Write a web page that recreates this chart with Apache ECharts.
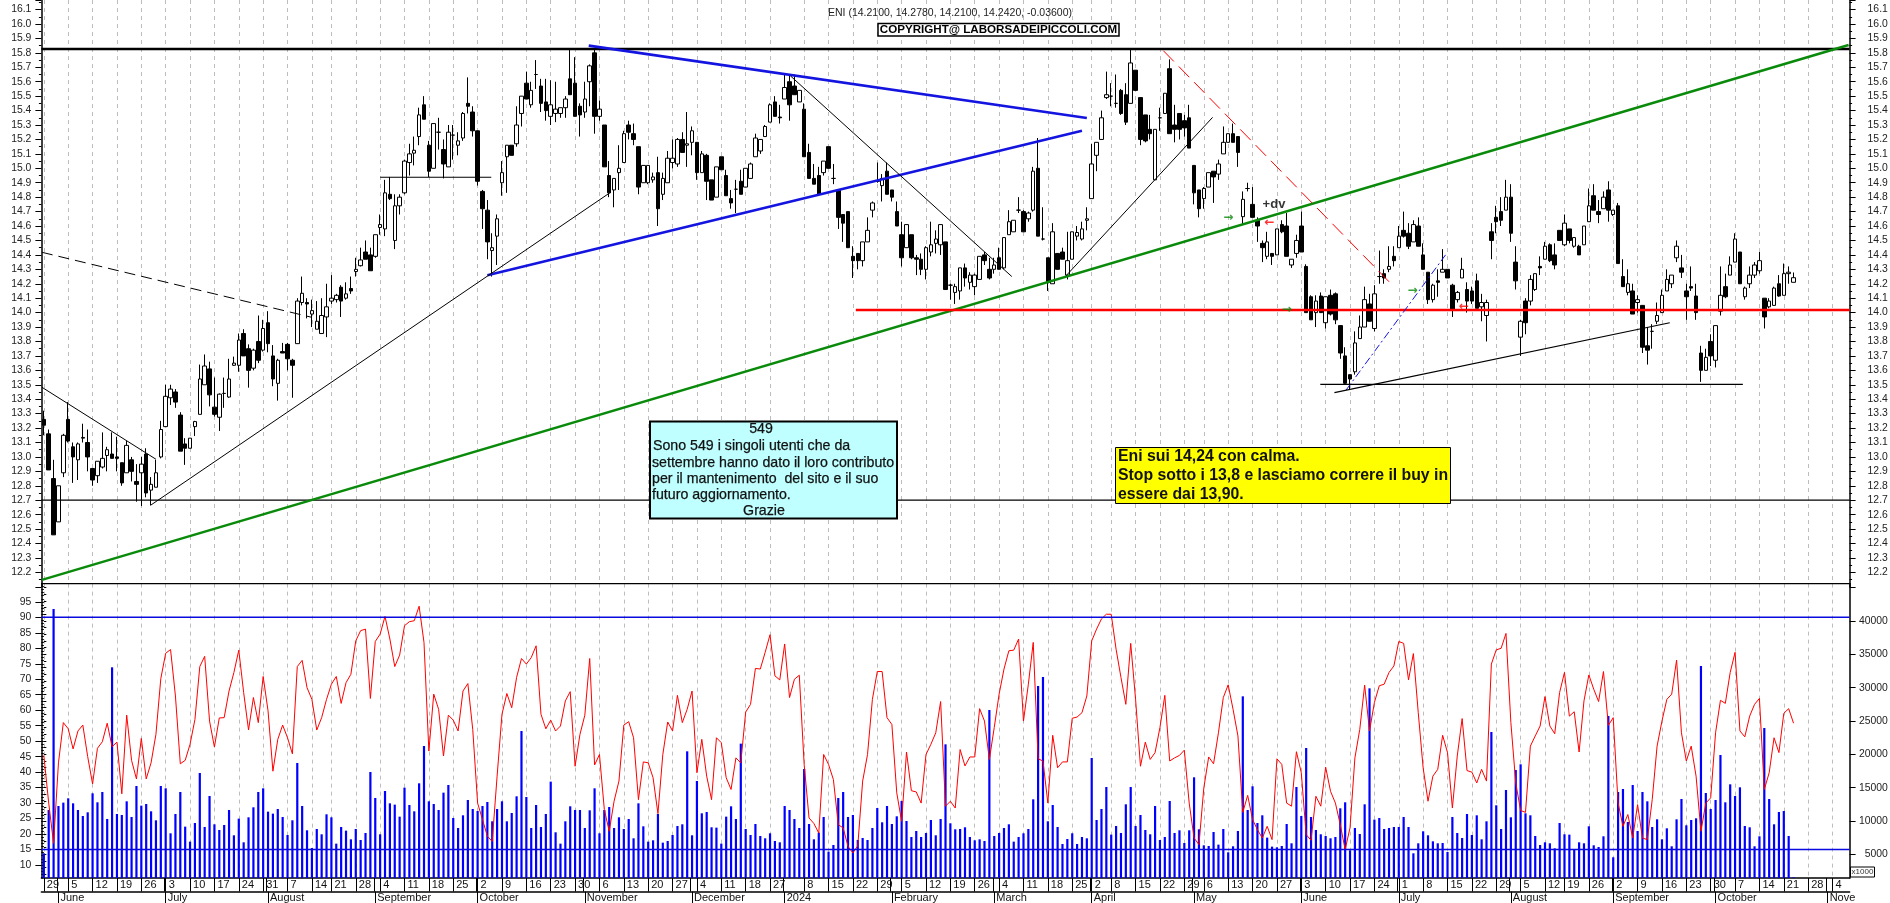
<!DOCTYPE html>
<html><head><meta charset="utf-8">
<style>html,body{margin:0;padding:0;background:#fff;overflow:hidden}#c{width:1890px;height:903px}</style>
<script src="https://cdn.jsdelivr.net/npm/echarts@6/dist/echarts.min.js"></script>
</head><body><div id="c"></div>
<script>
// open, close, low, high per trading day
const priceBars = [
[13.26,13.22,13.15,13.32],[13.16,12.91,12.91,13.19],[12.85,12.46,12.46,12.98],[12.55,12.80,12.55,12.80],[12.89,13.15,12.86,13.16],
[13.26,13.11,13.10,13.38],[13.07,13.00,12.82,13.10],[12.98,13.09,12.84,13.10],[13.13,13.135,13.10,13.23],[13.10,13.00,12.90,13.19],
[12.92,12.84,12.80,12.92],[12.87,12.97,12.82,12.97],[12.93,12.99,12.92,13.17],[13.01,13.05,12.90,13.07],[13.02,12.99,12.99,13.17],
[13.00,12.99,12.90,13.14],[12.96,12.82,12.80,12.96],[12.89,13.08,12.89,13.11],[12.98,12.90,12.83,13.00],[12.83,12.81,12.69,12.95],
[12.89,12.95,12.66,13.00],[13.02,12.75,12.72,13.06],[12.77,12.81,12.665,12.86],[12.79,12.89,12.79,12.98],[13.00,13.19,12.99,13.25],
[13.21,13.42,13.21,13.50],[13.41,13.47,13.36,13.50],[13.45,13.38,13.34,13.47],[13.29,13.04,13.04,13.31],[13.09,13.06,12.945,13.13],
[13.06,13.13,13.06,13.13],[13.21,13.245,13.145,13.25],[13.295,13.54,13.295,13.64],[13.50,13.63,13.50,13.71],[13.61,13.43,13.35,13.66],
[13.345,13.295,13.28,13.55],[13.275,13.435,13.18,13.44],[13.44,13.44,13.34,13.55],[13.415,13.54,13.41,13.68],[13.635,13.65,13.63,13.695],
[13.635,13.81,13.59,13.855],[13.855,13.70,13.70,13.885],[13.75,13.60,13.48,13.78],[13.615,13.74,13.60,13.75],[13.80,13.67,13.65,13.98],
[13.74,13.89,13.73,13.95],[13.93,13.785,13.725,14.01],[13.70,13.54,13.49,13.775],[13.51,13.67,13.39,13.68],[13.73,13.72,13.72,13.79],
[13.78,13.68,13.60,13.79],[13.67,13.635,13.41,13.68],[13.785,14.08,13.785,14.10],[14.07,14.134,14.05,14.25],[14.07,14.06,13.96,14.10],
[13.99,14.014,13.90,14.09],[13.885,13.94,13.885,14.08],[13.855,13.98,13.855,14.10],[13.97,14.04,13.83,14.20],[14.08,14.10,14.06,14.26],
[14.09,14.12,14.07,14.13],[14.176,14.08,13.97,14.19],[14.10,14.13,14.09,14.21],[14.167,14.15,14.13,14.25],[14.285,14.30,14.25,14.38],
[14.325,14.365,14.32,14.45],[14.42,14.37,14.37,14.50],[14.40,14.29,14.29,14.45],[14.39,14.54,14.38,14.54],[14.59,14.61,14.54,14.68],
[14.58,14.83,14.53,14.92],[14.82,14.79,14.78,14.94],[14.50,14.74,14.44,14.82],[14.74,14.80,14.68,14.82],[14.83,15.05,14.82,15.06],
[15.04,15.10,14.95,15.17],[15.105,15.125,15.02,15.22],[15.22,15.37,15.16,15.42],[15.44,15.34,15.34,15.50],[15.16,14.98,14.94,15.19],
[15.00,15.31,15.00,15.31],[15.25,15.25,15.13,15.35],[15.13,15.03,14.93,15.20],[15.01,15.25,15.01,15.30],[15.23,15.23,15.06,15.30],
[15.16,15.19,15.09,15.25],[15.21,15.38,15.19,15.39],[15.45,15.43,15.38,15.63],[15.39,15.26,15.22,15.43],[15.26,14.91,14.88,15.26],
[14.84,14.72,14.58,14.85],[14.71,14.49,14.37,14.78],[14.43,14.45,14.25,14.55],[14.53,14.65,14.33,14.68],[14.90,14.97,14.81,15.05],
[15.08,15.16,14.83,15.16],[15.16,15.09,15.09,15.16],[15.17,15.30,15.15,15.43],[15.38,15.50,15.29,15.50],[15.59,15.48,15.48,15.67],
[15.44,15.54,15.42,15.60],[15.65,15.65,15.55,15.75],[15.57,15.45,15.39,15.62],[15.46,15.40,15.33,15.62],[15.36,15.44,15.30,15.61],
[15.38,15.41,15.32,15.60],[15.38,15.42,15.35,15.42],[15.42,15.48,15.35,15.50],[15.62,15.51,15.51,15.82],[15.59,15.36,15.36,15.77],
[15.43,15.37,15.22,15.45],[15.39,15.48,15.35,15.60],[15.60,15.71,15.43,15.72],[15.80,15.36,15.24,15.82],[15.36,15.41,15.33,15.47],
[15.30,15.01,15.01,15.30],[14.95,14.83,14.80,15.05],[14.85,14.93,14.73,14.93],[14.97,15.00,14.85,15.16],[15.04,15.24,15.04,15.26],
[15.30,15.25,15.20,15.33],[15.24,15.20,15.16,15.31],[15.15,14.87,14.82,15.15],[14.90,15.02,14.90,15.02],[14.90,15.02,14.89,15.02],
[14.92,14.94,14.90,14.97],[14.97,14.72,14.60,15.08],[14.82,14.93,14.78,14.97],[14.90,15.07,14.90,15.12],[15.04,15.07,15.00,15.20],
[15.03,15.20,15.01,15.21],[15.20,15.11,15.11,15.25],[15.16,15.17,15.01,15.39],[15.18,15.26,15.09,15.29],[15.18,14.97,14.92,15.18],
[14.97,15.10,14.97,15.12],[15.09,14.91,14.78,15.10],[14.92,14.78,14.78,14.92],[14.80,15.01,14.80,15.01],[15.08,14.99,14.99,15.08],
[14.95,14.81,14.81,14.99],[14.79,14.76,14.72,14.85],[14.855,14.855,14.69,14.92],[14.91,14.82,14.82,14.99],[14.87,15.00,14.87,15.00],
[14.93,15.03,14.93,15.04],[15.08,15.21,15.08,15.24],[15.12,15.20,15.10,15.20],[15.22,15.29,15.22,15.30],[15.32,15.44,15.32,15.45],
[15.46,15.36,15.36,15.50],[15.355,15.35,15.31,15.44],[15.48,15.56,15.48,15.65],[15.60,15.44,15.33,15.65],[15.57,15.51,15.51,15.65],
[15.46,15.54,15.46,15.54],[15.41,15.08,15.08,15.45],[15.11,14.93,14.93,15.17],[14.93,14.89,14.89,15.03],[14.95,14.82,14.82,15.01],
[14.97,15.05,14.95,15.05],[15.15,15.00,15.00,15.15],[14.93,14.93,14.89,15.03],[14.85,14.66,14.58,14.85],[14.68,14.62,14.49,14.68],
[14.70,14.45,14.45,14.70],[14.39,14.36,14.24,14.46],[14.41,14.36,14.30,14.41],[14.36,14.49,14.32,14.49],[14.49,14.57,14.49,14.66],
[14.71,14.76,14.66,14.77],[14.91,14.91,14.90,15.04],[14.88,14.93,14.77,14.96],[14.98,14.82,14.82,15.04],[14.85,14.80,14.77,14.85],
[14.70,14.60,14.60,14.77],[14.54,14.38,14.32,14.63],[14.45,14.61,14.45,14.61],[14.54,14.38,14.37,14.54],[14.38,14.37,14.26,14.40],
[14.37,14.30,14.26,14.41],[14.30,14.45,14.23,14.46],[14.42,14.47,14.39,14.63],[14.48,14.51,14.41,14.57],[14.47,14.61,14.40,14.61],
[14.49,14.16,14.16,14.49],[14.19,14.19,14.09,14.20],[14.14,14.18,14.06,14.20],[14.15,14.31,14.09,14.31],[14.31,14.24,14.18,14.34],
[14.21,14.26,14.16,14.28],[14.18,14.26,14.12,14.27],[14.23,14.39,14.23,14.39],[14.40,14.36,14.33,14.42],[14.30,14.24,14.23,14.38],
[14.30,14.33,14.27,14.38],[14.38,14.30,14.30,14.45],[14.31,14.52,14.30,14.52],[14.54,14.63,14.54,14.71],[14.56,14.64,14.56,14.64],
[14.71,14.71,14.69,14.80],[14.70,14.56,14.56,14.71],[14.65,14.69,14.63,14.70],[14.71,14.98,14.70,15.01],[15.00,14.53,14.53,15.21],
[14.51,14.51,14.50,14.73],[14.38,14.21,14.15,14.38],[14.20,14.56,14.20,14.62],[14.41,14.30,14.30,14.41],[14.42,14.37,14.37,14.45],
[14.26,14.36,14.23,14.56],[14.37,14.56,14.37,14.56],[14.53,14.555,14.50,14.60],[14.51,14.58,14.50,14.63],[14.64,14.65,14.57,14.73],
[14.79,15.03,14.79,15.17],[15.09,15.18,14.98,15.18],[15.20,15.35,15.20,15.40],[15.49,15.51,15.48,15.67],[15.50,15.50,15.43,15.59],
[15.45,15.45,15.42,15.65],[15.54,15.38,15.37,15.55],[15.51,15.32,15.30,15.59],[15.45,15.73,15.45,15.82],[15.68,15.54,15.54,15.68],
[15.49,15.20,15.16,15.49],[15.37,15.19,15.18,15.37],[15.27,15.24,15.20,15.37],[14.92,15.27,14.92,15.27],[15.35,15.35,15.26,15.42],
[15.38,15.52,15.38,15.52],[15.69,15.24,15.24,15.755],[15.30,15.27,15.18,15.44],[15.38,15.27,15.20,15.38],[15.33,15.28,15.22,15.37],
[15.35,15.14,15.14,15.44],[15.02,14.83,14.75,15.02],[14.85,14.72,14.66,14.85],[14.79,14.86,14.72,14.87],[14.87,14.97,14.87,14.97],
[14.98,14.94,14.76,14.98],[14.96,15.03,14.92,15.06],[15.10,15.18,15.10,15.29],[15.18,15.24,15.18,15.24],[15.24,15.18,15.18,15.31],
[15.22,15.11,15.01,15.22],[14.665,14.785,14.61,14.84],[14.86,14.86,14.84,14.90],[14.75,14.66,14.66,14.87],[14.64,14.60,14.49,14.66],
[14.48,14.45,14.35,14.50],[14.39,14.49,14.37,14.56],[14.41,14.39,14.33,14.41],[14.40,14.58,14.40,14.58],[14.61,14.56,14.55,14.64],
[14.60,14.39,14.39,14.69],[14.33,14.37,14.31,14.37],[14.41,14.50,14.38,14.54],[14.60,14.42,14.42,14.70],[14.32,14.00,14.00,14.335],
[14.11,13.95,13.95,14.12],[14.00,14.08,13.90,14.12],[14.115,14.00,14.00,14.14],[13.93,14.11,13.89,14.11],[14.12,13.99,13.98,14.16],
[14.13,13.95,13.92,14.14],[13.91,13.72,13.68,13.91],[13.70,13.51,13.50,13.76],[13.57,13.54,13.47,13.57],[13.59,13.79,13.57,13.87],
[13.82,13.90,13.82,13.98],[13.90,14.09,13.90,14.18],[14.06,13.94,13.94,14.13],[13.89,14.13,13.87,14.19],[14.25,14.25,14.20,14.43],
[14.27,14.24,14.20,14.30],[14.30,14.32,14.28,14.46],[14.39,14.36,14.32,14.46],[14.45,14.53,14.45,14.60],[14.57,14.53,14.52,14.70],
[14.55,14.46,14.44,14.62],[14.49,14.61,14.49,14.64],[14.60,14.46,14.46,14.66],[14.40,14.30,14.30,14.48],[14.28,14.09,14.06,14.28],
[14.09,14.19,14.07,14.20],[14.22,14.21,14.11,14.30],[14.28,14.30,14.28,14.44],[14.30,14.24,14.24,14.30],[14.19,14.02,13.97,14.20],
[14.09,14.14,14.07,14.15],[14.24,14.30,14.24,14.38],[14.16,14.08,14.00,14.21],[14.15,14.08,14.06,14.18],[14.22,14.03,14.03,14.27],
[14.04,14.07,13.94,14.13],[13.98,14.07,13.80,14.09],[14.56,14.50,14.37,14.62],[14.66,14.63,14.55,14.74],[14.70,14.64,14.60,14.80],
[14.71,14.80,14.71,14.92],[14.80,14.55,14.49,14.89],[14.35,14.22,14.16,14.46],[13.83,13.94,13.70,13.95],[14.08,13.93,13.85,14.10],
[14.08,14.23,14.05,14.26],[14.16,14.27,14.15,14.27],[14.32,14.31,14.26,14.39],[14.37,14.46,14.37,14.49],[14.47,14.36,14.35,14.48],
[14.40,14.33,14.30,14.48],[14.57,14.50,14.50,14.57],[14.47,14.62,14.46,14.68],[14.58,14.50,14.48,14.58],[14.46,14.52,14.45,14.52],
[14.46,14.40,14.40,14.47],[14.47,14.60,14.47,14.60],[14.63,14.74,14.63,14.86],[14.81,14.71,14.71,14.89],[14.70,14.68,14.62,14.78],
[14.72,14.80,14.72,14.84],[14.85,14.71,14.63,14.91],[14.68,14.71,14.67,14.71],[14.74,14.34,14.34,14.76],[14.25,14.18,14.18,14.37],
[14.14,14.20,14.12,14.30],[14.15,13.99,13.99,14.20],[14.07,14.09,14.00,14.12],[14.05,13.76,13.72,14.05],[13.77,13.74,13.64,13.90],
[13.87,13.87,13.75,13.92],[13.94,13.98,13.92,14.07],[14.00,14.12,14.00,14.16],[14.15,14.23,14.15,14.30],[14.20,14.26,14.17,14.26],
[14.38,14.46,14.35,14.50],[14.31,14.28,14.24,14.40],[14.15,14.11,13.95,14.20],[14.18,14.17,14.15,14.32],[14.115,14.00,13.95,14.20],
[13.72,13.60,13.52,13.77],[13.60,13.69,13.60,13.75],[13.80,13.70,13.63,13.85],[13.67,13.91,13.62,13.91],[14.01,14.12,13.98,14.32],
[14.18,14.11,14.10,14.27],[14.26,14.33,14.26,14.39],[14.35,14.51,14.35,14.55],[14.42,14.20,14.20,14.42],[14.11,14.17,14.09,14.18],
[14.20,14.26,14.17,14.32],[14.26,14.33,14.24,14.35],[14.29,14.36,14.27,14.42],[14.10,13.97,13.89,14.10],[14.04,14.08,14.03,14.10],
[14.05,14.17,14.05,14.18],[14.20,14.115,14.11,14.26],[14.12,14.27,14.12,14.34],[14.27,14.28,14.20,14.32],[14.21,14.242,14.21,14.278]
];
const volumes = [
5150,11650,41800,12250,12750,13400,12650,11650,10750,11300,14150,12800,14350,10300,33050,11050,10900,12950,10600,15250,
12300,12550,11450,10100,15250,14900,8150,11050,14350,9150,6900,9700,17200,9100,13750,9500,8650,9400,11650,7850,
10350,6800,10550,12050,14350,14900,11400,11100,11800,10600,7900,10100,18700,12250,8600,5950,8800,8000,11000,10550,
6600,9100,8550,7250,8800,7150,8200,17350,13450,8000,14500,12650,12450,10650,15000,12400,11450,15650,21250,12950,
12550,11650,14250,15400,10450,8950,10850,13150,11800,11500,12250,12850,9950,11800,12950,9950,11200,13700,23500,13600,
8950,12400,9100,11050,15900,8300,6600,9950,12200,11650,11650,8950,11600,14900,8150,11650,12100,8950,10550,8800,
10300,7400,12650,9200,6900,7100,11050,6750,7000,7900,9250,9500,20450,7850,16000,11150,11350,9050,9000,6600,
10650,12200,10300,21600,8800,7900,9550,7750,7400,8150,7000,6800,12250,11650,10300,8950,17800,9550,7250,8250,
10600,5400,6400,13450,14350,10600,10900,7150,7450,7150,8950,11950,9800,12250,9550,10700,13000,10000,7600,8500,
7600,8200,10150,7850,10300,21500,9650,8750,8800,9050,7600,7100,7250,7000,26650,7750,8200,8950,9500,6900,
7600,8150,8800,13250,30250,31600,9950,12400,9100,6550,7300,8150,6550,7600,7400,19450,10150,11800,15100,7950,
9250,8200,12500,15100,9250,10900,8650,8000,12250,7150,7600,13000,8200,8600,6700,8600,16550,8750,6350,6250,
8350,6450,8800,5300,6200,8500,28700,11650,15200,9700,10850,7500,6150,6050,6250,9550,6650,15100,10750,20950,
10600,8650,8000,7750,7400,7600,11900,12800,5600,8950,8050,12500,29900,10200,10450,8800,8950,9100,9100,10600,
9100,5150,6650,8450,7850,6950,6650,6700,5350,10600,8200,7450,11050,7900,10850,7250,9950,23350,12350,8800,
14650,10550,17650,18500,11150,10850,7750,6400,6800,6650,5900,9700,8000,7950,5750,6800,6650,9200,6350,6100,
7700,25750,4550,14350,14800,9850,15400,8500,14350,12950,9100,10250,7250,8900,6200,10250,13300,9350,10150,10400,
33250,14200,11800,13150,19900,12800,15500,13750,15050,9250,9050,6200,7700,23950,13300,9500,11350,11500,7750,1550
];
const rsiLine = [
45.4,30,17,43,56,54,47.5,53.3,55.2,45,36.2,47.7,49.8,55.8,48.2,49.7,33,58.4,43.8,37.8,
50.9,37.8,43,52.2,70.2,78.4,79.6,64.6,42.7,43.8,49,57,74.1,77.4,56.5,48.1,57.5,57.6,66.2,72.2,
79.4,65.7,53.6,64.1,56,70.9,59.8,40.3,50.6,55.2,51.1,45.9,74.1,76.1,67.3,63.5,53.6,57.6,63.5,68.4,
70.9,62.2,68.9,71.6,82.4,85.7,86.2,63.8,82.2,84.6,90.3,83,74.1,77.8,87.3,88.6,88.9,93.6,81.9,46.8,
65.2,60.3,45.2,58.4,56.8,53.3,66.2,68.6,53.8,30,24.7,19.3,17.6,38.7,58.7,65.4,60.8,70.6,76.7,74.9,
77,80.8,58.7,54,56.8,53.3,54.9,63,66,41.9,52.2,58.4,76.7,42.3,45.7,27.9,20.9,30.6,37.1,55.2,
56.3,51.1,31.1,43.3,43,38.2,26.6,45.7,56.2,53.3,64.8,56,60.3,66.2,39.8,50.6,38.7,31.1,51.1,49.5,
38.2,34.4,44.6,43,59.4,61.9,73.5,73.3,78.7,84.4,71.1,69.8,81.4,64.1,70,71.3,42.5,25.2,23.4,20.3,
45.7,42.5,37.6,23,22,16,13.9,16.2,37.1,45.7,63.5,72.5,72.5,57.6,55.4,33.3,24.1,46.5,34,33.6,
30,45.7,49,52.7,62.8,29,30.6,28.4,47.3,42,44.9,44.9,60.5,56.5,44.1,54.4,65.2,73.3,79.2,79.4,
83,56.5,68.4,81.9,44.3,43.6,30,51.9,41.4,43.3,43.3,57.4,57.8,59.2,64.6,82.4,86.2,89.5,91,91,
79.7,70.6,61.9,81.6,63.5,41.9,49.7,44.1,46.3,54.4,64.8,43.6,44.6,45.4,47.1,30,18.7,16.6,34.9,44.9,
42.7,52.7,64.1,68.2,60.3,51.7,27,32.5,24.7,21.4,18.7,22.5,18.2,44.3,42.5,30,29,46.6,39.8,19.8,
18,32.2,29,41.6,33.8,30,23,15,22,44.6,53.8,68.1,53.3,62.5,67.9,68.4,72.2,74.3,82.2,81.6,
69.8,78.3,59.2,41.4,30.6,38.7,40.9,51.9,46.3,28.4,45.2,57.3,40.5,40,36.5,40.9,37.1,74.9,79.5,80,
84.8,56,36.5,27.6,27,48.4,51.7,54.9,64.4,54.9,52.4,65.7,72.2,58.1,59.5,46.5,63,71.4,66.8,62.8,
72.5,55.1,57.6,30,22.5,26.3,18.7,29.5,18.7,18.2,31.1,48.4,56.5,63.5,65.2,76.2,52.7,43.6,48.4,38.7,
20.9,30,31.7,52.7,63.2,62.2,72.2,78.7,53.3,51.4,58.1,61.9,63.8,34.4,39.8,51.1,46.3,59,60.5,55.8
];
const weekTicks = [0,5,10,15,20,25,30,35,40,45,50,55,59,64,69,74,79,84,89,94,99,104,109,114,119,124,129,134,139,144,149,156,161,166,171,176,181,186,191,196,201,206,211,215,219,224,229,234,238,243,248,253,258,263,268,273,278,283,288,293,298,303,308,312,317,322,327,332,337,342,347,352,357,362,367];
const weekLabels = ["29","5","12","19","26","3","10","17","24","31","7","14","21","28","4","11","18","25","2","9","16","23","30","6","13","20","27","4","11","18","27","8","15","22","29","5","12","19","26","4","11","18","25","2","8","15","22","29","6","13","20","27","3","10","17","24","1","8","15","22","29","5","12","19","26","2","9","16","23","30","7","14","21","28","4"];
const monthTicks = [3,25,46,68,89,111,133,152,174,195,215,236,258,278,301,322,343,366];
const monthLabels = ["June","July","August","September","October","November","December","2024","February","March","April","May","June","July","August","September","October","Nove"];
const rsiTicks = [10,15,20,25,30,35,40,45,50,55,60,65,70,75,80,85,90,95];
const volumeTicks = [5000,10000,15000,20000,25000,30000,35000,40000];

// hand-drawn analysis lines: [bar position, price]
const resistanceTop = [[-0.5,15.827],[370.5,15.827]];
const supportLow = [[-0.5,12.70],[370.5,12.70]];
const panelFloor = [[-0.5,12.122],[370.5,12.122]];
const greenTrend = [[-0.4,12.148],[370.3,15.855]];
const redLevel = [[166.6,14.018],[370.5,14.018]];
const blueUpper = [[111.8,15.85],[214,15.349]];
const blueLower = [[91,14.259],[213,15.261]];
const dashedBlack = [[-0.4,14.418],[54.9,13.968]];
const thinA = [[-0.4,13.483],[23,12.984]];
const thinB = [[21.9,12.665],[116.3,14.834]];
const flatB = [[69,14.938],[91.8,14.938]];
const thinC = [[153.2,15.64],[198.6,14.25]];
const thinD = [[209.7,14.254],[239.8,15.353]];
const redDashed = [[229.7,15.815],[276.7,14.19]];
const blueDashed = [[267.2,13.464],[287.6,14.40]];
const lateRise = [[264.8,13.446],[333.6,13.93]];
const lateFlat = [[261.9,13.503],[348.6,13.503]];
const rsiHigh = [[-0.5,90],[370.5,90]];
const rsiLow = [[-0.5,15],[370.5,15]];
const noteMarks = [
 {at:[243,14.656],text:'\u2192',tone:'#0a8a0a'},
 {at:[251.5,14.62],text:'\u2190',tone:'#ff0000'},
 {at:[280.8,14.15],text:'\u2192',tone:'#0a8a0a'},
 {at:[255,14.018],text:'\u2192',tone:'#0a8a0a'},
 {at:[291.4,14.04],text:'\u2190',tone:'#ff0000'},
 {at:[252.4,14.753],text:'+dv',tone:'#000'}
];

const FONT='"Liberation Sans",Arial,sans-serif';
const slots=Array.from({length:371},(_,i)=>i);
const weekMap=new Map(weekTicks.map((t,i)=>[t,weekLabels[i]]));
const monthMap=new Map(monthTicks.map((t,i)=>[t,monthLabels[i]]));
const step=(a,b,s)=>{const r=[];for(let v=a;v<=b;v+=s)r.push(v);return r;};

const seg=(data,color,width,type,xi=1,yi=0,z=5)=>({type:'line',data,xAxisIndex:xi,yAxisIndex:yi,showSymbol:false,silent:true,z,
  lineStyle:{color,width,type:type||'solid',cap:'butt'},animation:false});

const grayGrid={show:true,lineStyle:{color:'#bdbdbd',width:1,type:[4,4]}};
const noteText=(x,y,text,extra)=>({type:'text',z:51,x,y,style:Object.assign({text,font:'14.2px '+FONT,fill:'#111',stroke:'#111',lineWidth:0.25,textVerticalAlign:'middle'},extra||{})});
const boldText=(x,y,text)=>({type:'text',z:51,x,y,style:{text,font:'bold 15.8px '+FONT,fill:'#111',textVerticalAlign:'middle'}});
const option={
 animation:false,backgroundColor:'#fff',
 textStyle:{fontFamily:FONT},
 title:{text:'ENI (14.2100, 14.2780, 14.2100, 14.2420, -0.03600)',left:945,top:3,textAlign:'center',
   textStyle:{fontFamily:FONT,fontSize:10.5,fontWeight:'normal',color:'#222'}},
 grid:[{left:41.4,width:1808.2,top:0,height:586.8,outerBoundsMode:'none'},{left:41.4,width:1808.2,top:583.6,height:294.4,outerBoundsMode:'none'}],
 xAxis:[
  {type:'category',gridIndex:0,data:slots,show:false},
  {type:'value',gridIndex:0,min:-0.5,max:370.5,axisLine:{show:false},axisLabel:{show:false},
    axisTick:{show:false,customValues:weekTicks},splitLine:grayGrid},
  {type:'category',gridIndex:1,data:slots,show:false},
  {type:'value',gridIndex:1,min:-0.5,max:370.5,position:'bottom',
    axisLine:{show:true,onZero:false,lineStyle:{color:'#000',width:1.5}},
    axisTick:{show:true,length:13.5,customValues:weekTicks,lineStyle:{color:'#000'}},
    axisLabel:{show:true,customValues:weekTicks,formatter:v=>weekMap.get(v)||'',align:'left',padding:[0,0,0,3],margin:1,
      fontSize:11,color:'#111',fontFamily:FONT,hideOverlap:false},
    splitLine:grayGrid},
  {type:'value',gridIndex:1,min:-0.5,max:370.5,position:'bottom',offset:13.7,
    axisLine:{show:true,onZero:false,lineStyle:{color:'#000',width:1.5}},
    axisTick:{show:true,length:12,customValues:monthTicks,lineStyle:{color:'#000'}},
    axisLabel:{show:true,customValues:monthTicks,formatter:v=>monthMap.get(v)||'',align:'left',padding:[0,0,0,2],margin:1,
      fontSize:11,color:'#111',fontFamily:FONT,hideOverlap:false},
    splitLine:{show:false}},
  {type:'value',gridIndex:1,min:-0.5,max:370.5,position:'bottom',axisLine:{show:false},axisLabel:{show:false},
    axisTick:{show:true,length:13.5,customValues:monthTicks.map(t=>t-0.3),lineStyle:{color:'#000'}},splitLine:{show:false}}
 ],
 yAxis:[
  {type:'value',gridIndex:0,position:'left',min:12.1,max:16.1663,interval:0.1,scale:true,
    axisLine:{show:true,onZero:false,lineStyle:{color:'#000',width:1.5}},
    axisTick:{show:true,length:6,lineStyle:{color:'#000'}},
    minorTick:{show:true,splitNumber:2,length:2.5,lineStyle:{color:'#000'}},
    axisLabel:{formatter:v=>v.toFixed(1),fontSize:10.4,color:'#222',margin:10,fontFamily:FONT,showMinLabel:false,showMaxLabel:false},splitLine:{show:false}},
  {type:'value',gridIndex:0,position:'right',min:12.1,max:16.1663,interval:0.1,scale:true,
    axisLine:{show:true,onZero:false,lineStyle:{color:'#000',width:1.5}},
    axisTick:{show:true,length:6,lineStyle:{color:'#000'}},
    minorTick:{show:true,splitNumber:2,length:2.5,lineStyle:{color:'#000'}},
    axisLabel:{formatter:v=>v.toFixed(1),fontSize:10.4,color:'#222',margin:38.2,align:'right',fontFamily:FONT,showMinLabel:false,showMaxLabel:false},splitLine:{show:false}},
  {type:'value',gridIndex:1,position:'left',min:5.8,max:100.9,scale:true,
    axisLine:{show:true,onZero:false,lineStyle:{color:'#000',width:1.5}},
    axisTick:{show:true,length:6,customValues:rsiTicks,lineStyle:{color:'#000'}},
    axisLabel:{customValues:rsiTicks,fontSize:10.4,color:'#222',margin:10,fontFamily:FONT},splitLine:{show:false}},
  {type:'value',gridIndex:1,position:'right',min:1445,max:45610,scale:true,
    axisLine:{show:true,onZero:false,lineStyle:{color:'#000',width:1.5}},
    axisTick:{show:true,length:6,customValues:volumeTicks,lineStyle:{color:'#000'}},
    axisLabel:{customValues:volumeTicks,formatter:v=>String(v),fontSize:10.4,color:'#222',margin:38.2,align:'right',fontFamily:FONT},splitLine:{show:false}},
  {type:'value',gridIndex:1,position:'left',min:5.8,max:100.9,scale:true,axisLine:{show:false},
    axisTick:{show:true,length:2.5,customValues:step(6,100,1),lineStyle:{color:'#000'}},axisLabel:{show:false},splitLine:{show:false}},
  {type:'value',gridIndex:1,position:'right',min:1445,max:45610,scale:true,axisLine:{show:false},
    axisTick:{show:true,length:2.5,customValues:step(2000,45000,1000),lineStyle:{color:'#000'}},axisLabel:{show:false},splitLine:{show:false}}
 ],
 series:[
  {type:'candlestick',xAxisIndex:0,yAxisIndex:0,data:priceBars,barWidth:4,z:3,silent:true,
    itemStyle:{color:'#fff',color0:'#000',borderColor:'#000',borderColor0:'#000',borderWidth:1}},
  seg(supportLow,'#000',1.2),
  seg(panelFloor,'#000',1.2),
  seg(resistanceTop,'#000',2.4),
  seg(greenTrend,'#0a8a0a',2.6),
  seg(redLevel,'#ff0000',2.4),
  seg(blueUpper,'#1414e0',2.6),
  seg(blueLower,'#1414e0',2.6),
  seg(dashedBlack,'#000',1,[11,6]),
  seg(thinA,'#000',1),seg(thinB,'#000',1),seg(flatB,'#000',1.2),seg(thinC,'#000',1),seg(thinD,'#000',1),
  seg(redDashed,'#ff0000',1,[15,7]),
  seg(blueDashed,'#1414e0',1,[8,3,2,3]),
  seg(lateRise,'#000',1.2),seg(lateFlat,'#000',1.2),
  {type:'scatter',xAxisIndex:1,yAxisIndex:0,z:6,silent:true,symbolSize:2,itemStyle:{color:'rgba(0,0,0,0)'},labelLayout:{hideOverlap:false},
    data:noteMarks.map(m=>({value:m.at,label:{show:true,position:'inside',formatter:m.text,
      color:m.tone,fontFamily:m.text==='+dv'?FONT:'"DejaVu Sans"',fontWeight:'bold',fontSize:m.text==='+dv'?13:12}}))},
  {type:'bar',xAxisIndex:2,yAxisIndex:3,data:volumes,barWidth:2.2,z:3,silent:true,itemStyle:{color:'#0000ff'}},
  {type:'line',xAxisIndex:2,yAxisIndex:2,data:rsiLine,showSymbol:false,silent:true,z:4,lineStyle:{color:'#ff0000',width:1}},
  seg(rsiHigh,'#0a0ae0',1.5,null,3,2),
  seg(rsiLow,'#0a0ae0',1.5,null,3,2)
 ],
 graphic:[
  {type:'rect',z:50,shape:{x:878,y:23.5,width:241,height:12.5},style:{fill:'#fff',stroke:'#000',lineWidth:1.5}},
  {type:'text',z:51,x:998.5,y:30,style:{text:'COPYRIGHT@ LABORSADEIPICCOLI.COM',font:'bold 11.6px '+FONT,fill:'#000',textAlign:'center',textVerticalAlign:'middle'}},
  {type:'rect',z:50,shape:{x:650,y:421.5,width:247,height:97},style:{fill:'#bfffff',stroke:'#000',lineWidth:2}},
  noteText(761,429.3,'549',{textAlign:'center'}),
  noteText(653,445.7,'Sono 549 i singoli utenti che da'),
  noteText(652,462.7,'settembre hanno dato il loro contributo'),
  noteText(652,478.7,'per il mantenimento  del sito e il suo'),
  noteText(652,494.7,'futuro aggiornamento.'),
  noteText(764,511.3,'Grazie',{textAlign:'center'}),
  {type:'rect',z:50,shape:{x:1115.5,y:447.5,width:335,height:56},style:{fill:'#ffff00',stroke:'#000',lineWidth:1}},
  boldText(1118,456.7,'Eni sui 14,24 con calma.'),
  boldText(1118,475.7,'Stop sotto i 13,8 e lasciamo correre il buy in'),
  boldText(1118,494.7,'essere dai 13,90.'),
  {type:'rect',z:50,shape:{x:1850.5,y:867,width:24,height:10},style:{fill:'#fff',stroke:'#000',lineWidth:1}},
  {type:'text',z:51,x:1862.5,y:872,style:{text:'x1000',font:'8px '+FONT,fill:'#333',textAlign:'center',textVerticalAlign:'middle'}}
 ]
};
const chart=echarts.init(document.getElementById('c'),null,{renderer:'canvas',width:1890,height:903});
chart.setOption(option);
</script></body></html>
